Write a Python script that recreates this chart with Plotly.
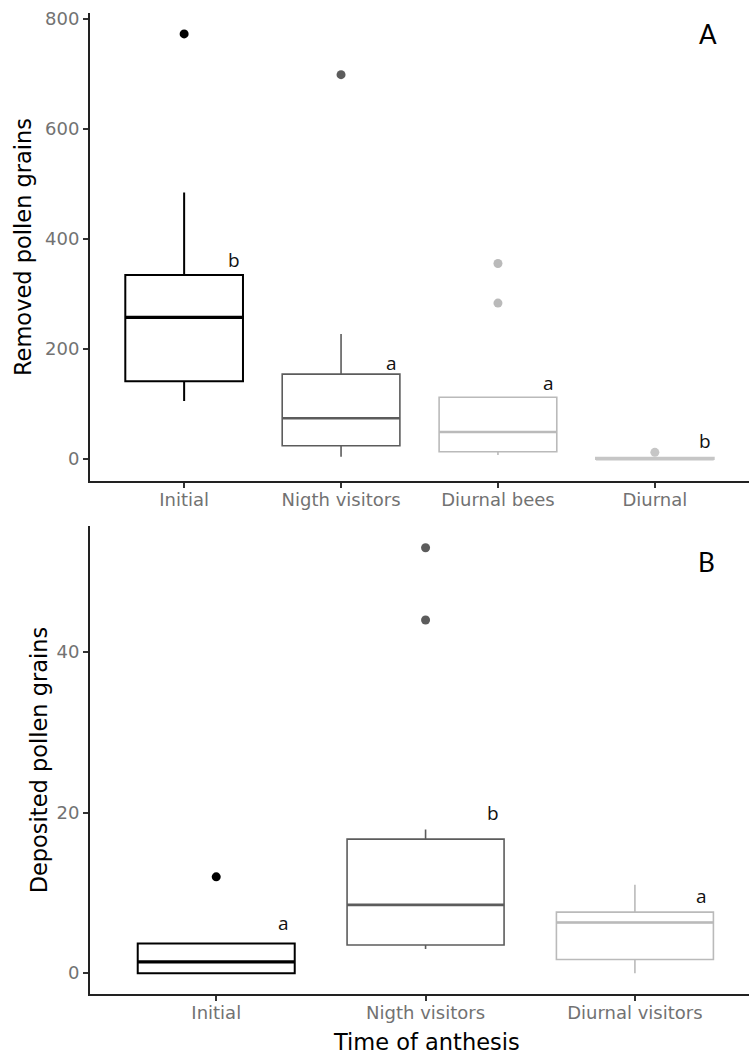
import plotly.graph_objects as go

# Panel A: removed pollen grains
cats_a = ["Initial", "Nigth visitors", "Diurnal bees", "Diurnal"]
q1_a = [141, 24, 13, 0]
med_a = [257, 74, 49, 0]
q3_a = [334, 154, 112, 2]
lo_a = [105, 4, 7, 0]
hi_a = [484, 227, 112, 3]
out_a = [[772], [698], [355, 283], [12]]
letters_a = ["b", "a", "a", "b"]
letter_y_a = [362, 175, 138, 33]

# Panel B: deposited pollen grains
cats_b = ["Initial", "Nigth visitors", "Diurnal visitors"]
q1_b = [0, 3.5, 1.7]
med_b = [1.4, 8.5, 6.3]
q3_b = [3.7, 16.7, 7.6]
lo_b = [0, 3.0, 0]
hi_b = [3.8, 17.9, 11]
out_b = [[12], [53, 44], []]
letters_b = ["a", "b", "a"]
letter_y_b = [6.3, 19.9, 9.6]

cols_a = ["#000000", "#5c5c5c", "#bababa", "#c6c6c6"]
cols_b = ["#000000", "#5c5c5c", "#bababa"]
widths_a = [2.0, 1.6, 1.6, 2.0]
widths_b = [2.0, 1.6, 1.6]

fig = go.Figure()

def add_panel(cats, q1, med, q3, lo, hi, outs, cols, widths, xa, ya):
    for i in range(len(cats)):
        fig.add_trace(go.Box(
            x=[i], q1=[q1[i]], median=[med[i]], q3=[q3[i]],
            lowerfence=[lo[i]], upperfence=[hi[i]],
            width=0.75, whiskerwidth=0, fillcolor="rgba(0,0,0,0)",
            line=dict(color=cols[i], width=widths[i]),
            boxpoints=False, showlegend=False, xaxis=xa, yaxis=ya,
            hoverinfo="skip"))
        # thicker median line, as ggplot draws it
        fig.add_trace(go.Scatter(
            x=[i - 0.375, i + 0.375], y=[med[i], med[i]], mode="lines",
            line=dict(color=cols[i], width=widths[i] * 1.6),
            showlegend=False, xaxis=xa, yaxis=ya, hoverinfo="skip"))
        if outs[i]:
            fig.add_trace(go.Scatter(
                x=[i] * len(outs[i]), y=outs[i], mode="markers",
                marker=dict(color=cols[i], size=9),
                showlegend=False, xaxis=xa, yaxis=ya, hoverinfo="skip"))

add_panel(cats_a, q1_a, med_a, q3_a, lo_a, hi_a, out_a, cols_a, widths_a, "x", "y")
add_panel(cats_b, q1_b, med_b, q3_b, lo_b, hi_b, out_b, cols_b, widths_b, "x2", "y2")

letter_font = dict(family="Open Sans, Lato, sans-serif", size=19, color="#111111")
for i, t in enumerate(letters_a):
    fig.add_annotation(x=i + 0.32, y=letter_y_a[i], text=t, showarrow=False,
                       xref="x", yref="y", font=letter_font)
for i, t in enumerate(letters_b):
    fig.add_annotation(x=i + 0.32, y=letter_y_b[i], text=t, showarrow=False,
                       xref="x2", yref="y2", font=letter_font)

panel_font = dict(family="Lato, Open Sans, sans-serif", size=26, color="#000000")
fig.add_annotation(x=3.34, y=772, text="A", showarrow=False, xref="x", yref="y", font=panel_font)
fig.add_annotation(x=2.34, y=51.2, text="B", showarrow=False, xref="x2", yref="y2", font=panel_font)

tick_font = dict(family="DejaVu Sans, sans-serif", size=18, color="#727272")
title_font = dict(family="DejaVu Sans, sans-serif", size=22.5, color="#000000")
axis_common = dict(showline=True, linecolor="#222222", linewidth=2, ticks="outside",
                   ticklen=5, tickwidth=1.5, tickcolor="#333333", showgrid=False,
                   zeroline=False, tickfont=tick_font, mirror=False)

# x-axis title placed as an annotation (centred like the original panel)
fig.add_annotation(x=0.511, y=-0.049, xref="paper", yref="paper",
                   text="Time of anthesis", showarrow=False, font=title_font,
                   xanchor="center", yanchor="middle")

fig.update_layout(
    width=751, height=1054,
    margin=dict(l=90, r=2, t=13, b=60),
    plot_bgcolor="white", paper_bgcolor="white",
    xaxis=dict(axis_common, domain=[0, 1], range=[-0.6, 3.6], ticklabelstandoff=-4,
               tickvals=list(range(len(cats_a))), ticktext=cats_a, anchor="y"),
    yaxis=dict(axis_common, domain=[0.523, 1], range=[-40, 810],
               tickvals=[0, 200, 400, 600, 800], anchor="x",
               title=dict(text="Removed pollen grains", font=title_font, standoff=7)),
    xaxis2=dict(axis_common, domain=[0, 1], range=[-0.603, 2.545], ticklabelstandoff=-4,
                tickvals=list(range(len(cats_b))), ticktext=cats_b, anchor="y2"),
    yaxis2=dict(axis_common, domain=[0, 0.477], range=[-2.6, 55.7],
                tickvals=[0, 20, 40], anchor="x2",
                title=dict(text="Deposited pollen grains", font=title_font, standoff=3)),
)

fig.write_html("out.html")
